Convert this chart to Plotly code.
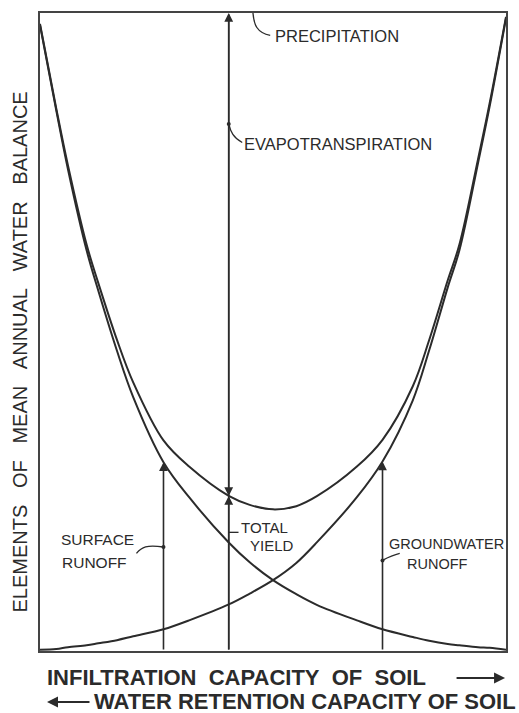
import plotly.graph_objects as go

# Infiltration capacity of soil (relative scale, 0 = low, 100 = high)
infiltration = [0, 3.5, 6, 10, 12.5, 16.5, 20, 26.5, 32, 40.5, 45, 50, 55,
                59.5, 68, 73.5, 80, 83.5, 87.5, 90, 94, 96.5, 100]
# Elements of the annual water balance, percent of precipitation
surface_runoff = [98.1, 84.7, 75.5, 62.8, 56.5, 47.1, 39.8, 29.6, 24.1, 17.0, 13.9, 11.1, 8.9,
                  7.2, 4.8, 3.4, 2.2, 1.6, 1.1, 0.9, 0.6, 0.5, 0.2]
groundwater_runoff = [0.2, 0.3, 0.6, 0.9, 1.2, 1.7, 2.3, 3.4, 4.8, 7.3, 9.0, 11.1, 13.8,
                      17.1, 24.1, 29.7, 39.3, 47.1, 57.0, 62.8, 76.5, 85.4, 99.2]
precipitation = 100
total_yield = [s + g for s, g in zip(surface_runoff, groundwater_runoff)]

# sections where the balance is illustrated with arrows
surface_at = 26.5
balance_at = 40.5
ground_at = 73.5

INK = "#2b2b2b"
FONT = "Liberation Sans"


def value_at(series, x):
    return series[infiltration.index(x)]


fig = go.Figure()

for series in (surface_runoff, groundwater_runoff, total_yield):
    fig.add_trace(go.Scatter(
        x=infiltration, y=series, mode="lines",
        line=dict(color=INK, width=2, shape="spline", smoothing=1),
        hoverinfo="skip", showlegend=False,
    ))

# small dots where the label leaders meet the arrows
fig.add_trace(go.Scatter(
    x=[balance_at, surface_at, ground_at], y=[82.6, 16.3, 14.2], mode="markers",
    marker=dict(color=INK, size=4), hoverinfo="skip", showlegend=False,
))

arrow = dict(showarrow=True, arrowhead=2, arrowsize=1.1, arrowwidth=1.6,
             arrowcolor=INK, axref="x", ayref="y", xref="x", yref="y",
             standoff=0, text="")
annotations = [
    # precipitation: full column
    dict(x=balance_at, y=precipitation, ax=balance_at, ay=0, **arrow),
    # evapotranspiration: from precipitation down to total yield
    dict(x=balance_at, y=value_at(total_yield, balance_at), ax=balance_at,
         ay=precipitation, **arrow),
    # total yield
    dict(x=balance_at, y=value_at(total_yield, balance_at), ax=balance_at, ay=0, **arrow),
    # surface runoff
    dict(x=surface_at, y=value_at(surface_runoff, surface_at), ax=surface_at, ay=0, **arrow),
    # groundwater runoff
    dict(x=ground_at, y=value_at(groundwater_runoff, ground_at), ax=ground_at, ay=0, **arrow),
]

label = dict(showarrow=False, xref="x", yref="y", xanchor="left", yanchor="middle")
for text, x, y, size in [
    ("PRECIPITATION", 50.0, 96.4, 16.5),
    ("EVAPOTRANSPIRATION", 43.4, 79.5, 16.5),
    ("SURFACE", 4.0, 17.4, 15.5),
    ("RUNOFF", 4.2, 13.8, 15.5),
    ("TOTAL", 42.6, 19.4, 15),
    ("YIELD", 44.6, 16.5, 15),
    ("GROUNDWATER", 74.4, 16.8, 14.5),
    ("RUNOFF", 78.4, 13.6, 14.5),
]:
    annotations.append(dict(text=text, x=x, y=y,
                            font=dict(family=FONT, size=size, color=INK), **label))

# axis captions
caption_font = dict(family=FONT, size=22, color=INK, weight="bold")
annotations += [
    dict(text="INFILTRATION\u00a0\u00a0CAPACITY\u00a0\u00a0OF\u00a0\u00a0SOIL",
         xref="paper", yref="paper", x=0.011, y=-0.0423, xanchor="left", yanchor="middle",
         showarrow=False, font=caption_font),
    dict(text="", xref="paper", yref="paper", x=0.998, y=-0.0423, ax=-50, ay=0,
         showarrow=True, arrowhead=2, arrowsize=1.1, arrowwidth=2, arrowcolor=INK),
    dict(text="WATER RETENTION CAPACITY OF SOIL",
         xref="paper", yref="paper", x=0.111, y=-0.0798, xanchor="left", yanchor="middle",
         showarrow=False, font=caption_font),
    dict(text="", xref="paper", yref="paper", x=0.015, y=-0.0798, ax=44, ay=0,
         showarrow=True, arrowhead=2, arrowsize=1.1, arrowwidth=2, arrowcolor=INK),
    dict(text="ELEMENTS\u00a0\u00a0\u00a0OF\u00a0\u00a0\u00a0MEAN\u00a0\u00a0\u00a0ANNUAL"
              "\u00a0\u00a0\u00a0WATER\u00a0\u00a0\u00a0BALANCE",
         xref="paper", yref="paper", x=-0.0427, y=0.468, xanchor="center", yanchor="middle",
         textangle=-90, showarrow=False, font=dict(family=FONT, size=20, color=INK)),
]

leader = dict(type="path", xref="x", yref="y", line=dict(color=INK, width=1.3))
shapes = [
    dict(path="M 45.7,100 C 45.9,98.2 46.5,96.9 49.4,96.5", **leader),
    dict(path=f"M {balance_at},82.6 C 40.9,81.4 41.5,80.4 43.4,79.7", **leader),
    dict(path=f"M 20.7,15.3 C 21.8,16.3 22.9,16.7 {surface_at},16.3", **leader),
    dict(path=f"M {ground_at},14.2 C 74.5,14.6 75.5,15.0 77.2,15.3", **leader),
    dict(path=f"M {balance_at},18.6 L 42.6,18.6", **leader),
]

axis = dict(showline=True, mirror=True, linecolor="#444", linewidth=2,
            showgrid=False, zeroline=False, showticklabels=False, ticks="")
fig.update_layout(
    width=519, height=713,
    margin=dict(l=40, r=11, t=12, b=62),
    paper_bgcolor="white", plot_bgcolor="white",
    xaxis=dict(range=[0, 100], **axis),
    yaxis=dict(range=[0, precipitation], **axis),
    annotations=annotations,
    shapes=shapes,
    showlegend=False,
)

fig.write_html("out.html")
